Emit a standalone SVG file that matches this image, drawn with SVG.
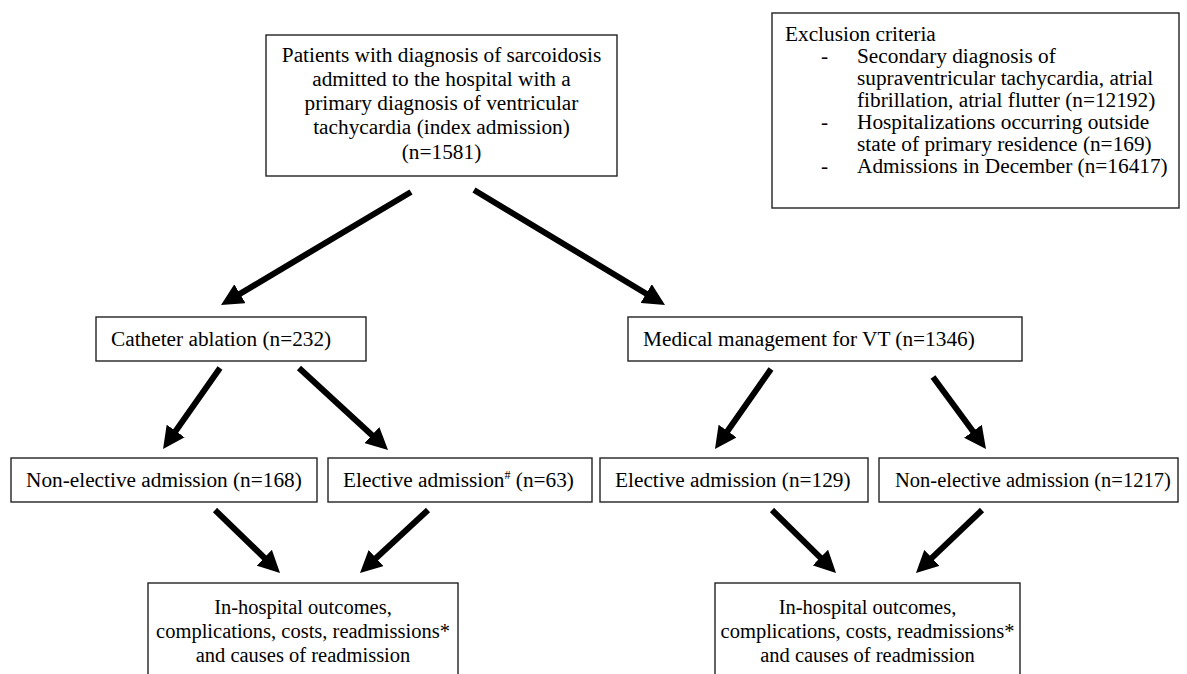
<svg xmlns="http://www.w3.org/2000/svg" width="1187" height="674" viewBox="0 0 1187 674">
<style>
  .box { fill: #ffffff; stroke: #222222; stroke-width: 1.4; }
  .t { font-family: "Liberation Serif", "Times New Roman", serif; font-size: 21.3px; fill: #000000; }
  .s { font-size: 20.5px; }
  .c { text-anchor: middle; }
  .arr { stroke: #000000; stroke-width: 6; fill: none; marker-end: url(#ah); }
</style>
<defs>
  <marker id="ah" markerUnits="userSpaceOnUse" markerWidth="22" markerHeight="22" viewBox="0 0 22 22" refX="4" refY="11" orient="auto">
    <path d="M0,0 L22,11 L0,22 z" fill="#000000"/>
  </marker>
</defs>
<rect x="0" y="0" width="1187" height="674" fill="#ffffff"/>

<g id="index">
  <rect class="box" x="266" y="35" width="351" height="141"/>
  <text class="t c" x="441.5" y="62">Patients with diagnosis of sarcoidosis</text>
  <text class="t c" x="441.5" y="86">admitted to the hospital with a</text>
  <text class="t c" x="441.5" y="110">primary diagnosis of ventricular</text>
  <text class="t c" x="441.5" y="134">tachycardia (index admission)</text>
  <text class="t c" x="441.5" y="159">(n=1581)</text>
</g>

<g id="exclusion">
  <rect class="box" x="772" y="13" width="407" height="195"/>
  <text class="t" x="785" y="41">Exclusion criteria</text>
  <text class="t" x="821" y="63">-</text>
  <text class="t" x="857" y="63">Secondary diagnosis of</text>
  <text class="t" x="857" y="85">supraventricular tachycardia, atrial</text>
  <text class="t" x="857" y="107">fibrillation, atrial flutter (n=12192)</text>
  <text class="t" x="821" y="129">-</text>
  <text class="t" x="857" y="129">Hospitalizations occurring outside</text>
  <text class="t" x="857" y="151">state of primary residence (n=169)</text>
  <text class="t" x="821" y="173">-</text>
  <text class="t" x="857" y="173">Admissions in December (n=16417)</text>
</g>

<g id="catheter">
  <rect class="box" x="96" y="317" width="270" height="44"/>
  <text class="t" x="111" y="346">Catheter ablation (n=232)</text>
</g>

<g id="medical">
  <rect class="box" x="628" y="317" width="394" height="44"/>
  <text class="t" x="643" y="346">Medical management for VT (n=1346)</text>
</g>

<g id="cath-nonelective">
  <rect class="box" x="11" y="458" width="306" height="44"/>
  <text class="t" x="26" y="487">Non-elective admission (n=168)</text>
</g>

<g id="cath-elective">
  <rect class="box" x="328" y="458" width="264" height="44"/>
  <text class="t" x="343" y="487">Elective admission<tspan font-size="12" dy="-8">#</tspan><tspan dy="8"> (n=63)</tspan></text>
</g>

<g id="med-elective">
  <rect class="box" x="600" y="458" width="268" height="44"/>
  <text class="t" x="615" y="487">Elective admission (n=129)</text>
</g>

<g id="med-nonelective">
  <rect class="box" x="879" y="458" width="299" height="44"/>
  <text class="t s" x="895" y="487">Non-elective admission (n=1217)</text>
</g>

<g id="outcomes-left">
  <rect class="box" x="148" y="583" width="310" height="100"/>
  <text class="t s c" x="303" y="614">In-hospital outcomes,</text>
  <text class="t s c" x="303" y="638">complications, costs, readmissions*</text>
  <text class="t s c" x="303" y="662">and causes of readmission</text>
</g>

<g id="outcomes-right">
  <rect class="box" x="715" y="583" width="305" height="100"/>
  <text class="t s c" x="867.5" y="614">In-hospital outcomes,</text>
  <text class="t s c" x="867.5" y="638">complications, costs, readmissions*</text>
  <text class="t s c" x="867.5" y="662">and causes of readmission</text>
</g>

<g id="connectors">
  <line class="arr" x1="411" y1="192" x2="236.5" y2="295.8"/>
  <line class="arr" x1="474" y1="190" x2="649.6" y2="295.7"/>
  <line class="arr" x1="220" y1="368" x2="173.4" y2="434.3"/>
  <line class="arr" x1="299" y1="368" x2="374.8" y2="437.8"/>
  <line class="arr" x1="771" y1="369" x2="725.3" y2="434.3"/>
  <line class="arr" x1="933" y1="377" x2="975.3" y2="434.5"/>
  <line class="arr" x1="215" y1="510" x2="267.1" y2="560.5"/>
  <line class="arr" x1="428" y1="510" x2="373.2" y2="560.8"/>
  <line class="arr" x1="772" y1="510" x2="823.2" y2="560.4"/>
  <line class="arr" x1="982" y1="510" x2="929" y2="560.6"/>
</g>
</svg>
